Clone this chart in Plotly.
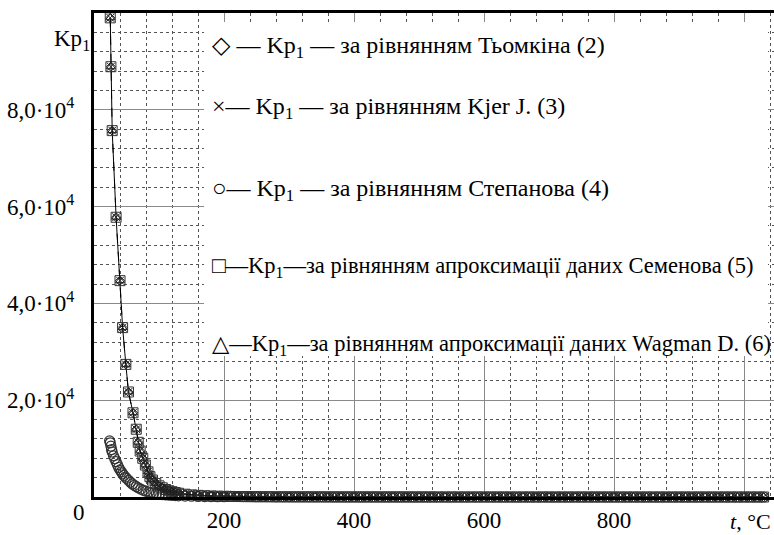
import plotly.graph_objects as go

# ---------------- data ----------------
# main curve (Тьомкін, Kjer, Семенов, Wagman practically coincide)
t_main = [25, 26, 28, 34, 40, 44, 49, 53, 60, 65, 68, 71, 75, 79, 83, 86, 90, 95,
          100, 105, 110, 115, 120, 125, 130, 140, 150, 160, 170, 180, 190, 200]
kp_main = [99000, 88900, 75700, 57800, 44700, 35000, 27400, 21700, 17400, 14000,
           11300, 9500, 8000, 6600, 5200, 4200, 3500, 2800, 2300, 1900, 1550, 1300,
           1100, 920, 780, 580, 440, 340, 270, 210, 170, 140]

# Степанов
t_step = [24, 25, 26, 27, 28, 30, 32, 34, 36, 38, 40, 42, 44, 46, 48, 50, 53, 56, 59,
          62, 65, 68, 72, 76, 80, 84, 88, 92, 96, 100, 105, 110, 115, 120, 125, 130,
          140, 150, 160, 170, 180, 190, 200]
kp_step = [11600, 11200, 10500, 9800, 9300, 8500, 7900, 7300, 6700, 6100, 5600, 5200,
           4800, 4450, 4120, 3850, 3450, 3050, 2700, 2420, 2140, 1900, 1620, 1380,
           1200, 1030, 900, 790, 680, 600, 510, 440, 380, 330, 290, 250, 190, 150,
           120, 95, 75, 60, 50]

# high-temperature tail (all equations ~0 on this scale)
t_tail = list(range(210, 1040, 10))
kp_tail = [118, 100, 86, 74, 64, 56, 49, 43, 38, 34,
           30, 27, 24, 22, 20, 18, 16, 15, 14, 13,
           12, 11, 10, 9, 9, 8, 8, 7, 7, 6,
           6, 6, 5, 5, 5, 5, 4, 4, 4, 4,
           4, 3, 3, 3, 3, 3, 3, 3, 2, 2,
           2, 2, 2, 2, 2, 2, 2, 2, 2, 1,
           1, 1, 1, 1, 1, 1, 1, 1, 1, 1,
           1, 1, 1, 1, 1, 1, 1, 1, 1, 1,
           1, 1, 1]

y_tickvals = [20000, 40000, 60000, 80000, 100000]
y_ticktext = ["2,0·10<sup>4</sup>", "4,0·10<sup>4</sup>", "6,0·10<sup>4</sup>",
              "8,0·10<sup>4</sup>", ""]
x_tickvals = [200, 400, 600, 800, 1000]
x_ticktext = ["200", "400", "600", "800", ""]

legend_texts = [
    "◇ — Kp<sub>1</sub> — за рівнянням Тьомкіна (2)",
    "×— Kp<sub>1</sub> — за рівнянням Kjer J. (3)",
    "○— Kp<sub>1</sub> — за рівнянням Степанова (4)",
    "□—Kp<sub>1</sub>—за рівнянням апроксимації даних Семенова (5)",
    "△—Kp<sub>1</sub>—за рівнянням апроксимації даних Wagman D. (6)",
]

# ---------------- figure ----------------
W, H = 774, 535
# plot area in screen pixels: x 94..774, y 13..497
L, R, T, B = 94, 0, 13, H - 497
FONT = "Liberation Serif, Times New Roman, DejaVu Serif, serif"

def px(x):   # screen x -> paper
    return (x - L) / (W - L - R)

def py(y):   # screen y -> paper
    return (H - B - y) / (H - T - B)

fig = go.Figure()

tm = t_main + t_tail
km = kp_main + kp_tail
ts = t_step + t_tail
ks = kp_step + kp_tail

fig.add_trace(go.Scatter(x=ts, y=ks, mode="markers", cliponaxis=False,
                         marker=dict(symbol="circle-open", size=10, color="#333",
                                     line=dict(width=1.2, color="#333"))))
fig.add_trace(go.Scatter(x=tm, y=km, mode="lines+markers", cliponaxis=False,
                         line=dict(color="black", width=1),
                         marker=dict(symbol="square-open", size=10, color="#333",
                                     line=dict(width=1, color="#333"))))
fig.add_trace(go.Scatter(x=tm, y=km, mode="lines+markers", cliponaxis=False,
                         line=dict(color="black", width=1, dash="dash"),
                         marker=dict(symbol="x-thin-open", size=8, color="#222",
                                     line=dict(width=1, color="#222"))))
fig.add_trace(go.Scatter(x=tm, y=km, mode="markers", cliponaxis=False,
                         marker=dict(symbol="triangle-up-open", size=8, color="#222",
                                     line=dict(width=1, color="#222"))))
fig.add_trace(go.Scatter(x=tm, y=km, mode="markers", cliponaxis=False,
                         marker=dict(symbol="diamond-open", size=7, color="#222",
                                     line=dict(width=1, color="#222"))))

fig.update_layout(
    width=W, height=H, showlegend=False,
    margin=dict(l=L, r=R, t=T, b=B, pad=0, autoexpand=False),
    paper_bgcolor="white", plot_bgcolor="white",
    font=dict(family=FONT, color="black", size=22),
    xaxis=dict(range=[0, 1046], tickmode="array", tickvals=x_tickvals,
               ticktext=x_ticktext, showgrid=True, gridcolor="#8a8a8a", gridwidth=1,
               zeroline=False, showline=True, linecolor="black", linewidth=2.5,
               mirror=True, ticks="", ticklabelstandoff=1, automargin=False,
               tickfont=dict(family=FONT, size=23),
               minor=dict(tickmode="linear", tick0=0, dtick=40, showgrid=True,
                          gridcolor="#555", griddash="dot", gridwidth=1)),
    yaxis=dict(range=[0, 100000], tickmode="array", tickvals=y_tickvals,
               ticktext=y_ticktext, showgrid=True, gridcolor="#8a8a8a", gridwidth=1,
               zeroline=False, showline=True, linecolor="black", linewidth=3,
               ticks="", ticklabelstandoff=12, automargin=False,
               tickfont=dict(family=FONT, size=23),
               minor=dict(tickmode="linear", tick0=0, dtick=4000, showgrid=True,
                          gridcolor="#555", griddash="dot", gridwidth=1)),
)

# white legend box
fig.add_shape(type="rect", xref="paper", yref="paper",
              x0=px(204), x1=px(768), y0=py(356), y1=py(22),
              fillcolor="white", line=dict(width=0), layer="above")

leg_y = [47, 108, 190, 267, 345]
leg_size = [24, 24, 24, 22.5, 22.5]
for txt, yy, fs in zip(legend_texts, leg_y, leg_size):
    fig.add_annotation(xref="paper", yref="paper", x=px(210), y=py(yy),
                       text=txt, showarrow=False, xanchor="left", yanchor="middle",
                       font=dict(family=FONT, size=fs, color="black"))

fig.add_annotation(xref="paper", yref="paper", x=px(72), y=py(40),
                   text="Kp<sub>1</sub>", showarrow=False, xanchor="center",
                   yanchor="middle", font=dict(family=FONT, size=23))
fig.add_annotation(xref="paper", yref="paper", x=px(79), y=py(512),
                   text="0", showarrow=False, xanchor="center",
                   yanchor="middle", font=dict(family=FONT, size=23))
fig.add_annotation(xref="paper", yref="paper", x=px(773), y=py(521),
                   text="<i>t</i>, °C", showarrow=False, xanchor="right",
                   yanchor="middle", font=dict(family=FONT, size=22))

fig.write_html(
    "out.html",
    config={"displayModeBar": False},
    post_script="document.body.style.margin='0';document.body.style.overflow='hidden';",
)
